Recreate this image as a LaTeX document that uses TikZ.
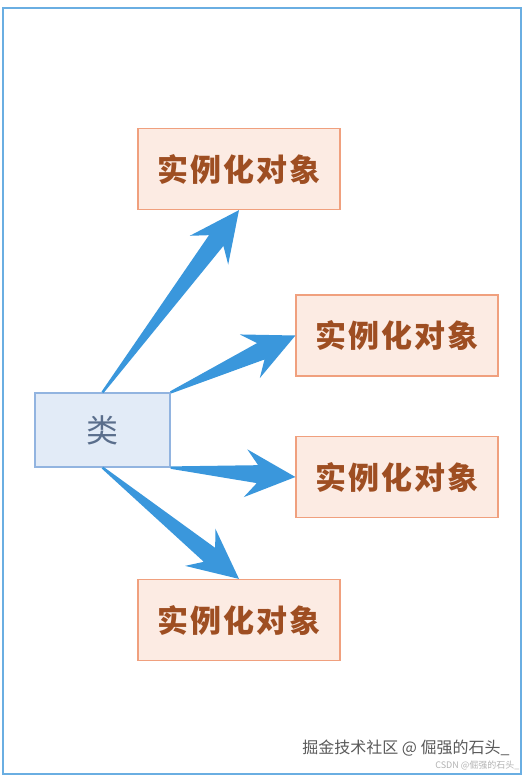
\documentclass[tikz,border=0pt]{standalone}
\usepackage{fontspec}
\usetikzlibrary{calc}
\newfontfamily\cjk{Noto Sans CJK SC}
\newfontfamily\cjkwide[LetterSpace=6]{Noto Sans CJK SC}
\definecolor{objfill}{HTML}{FCEBE3}
\definecolor{objline}{HTML}{F0A07E}
\definecolor{objtext}{HTML}{9E4E22}
\definecolor{clsfill}{HTML}{E2EBF7}
\definecolor{clsline}{HTML}{92B4E0}
\definecolor{clstext}{HTML}{5A6E8C}
\definecolor{framecol}{HTML}{6AAEE2}
\definecolor{arrowblue}{HTML}{3A97DC}
% tapered arrow with a wide, swept-back head
\newcommand{\fatarrow}[2]{%
  \fill[arrowblue] ($(#1)!1.2pt!90:(#2)$) -- ($(#2)!39.1pt!-13.3:(#1)$)
    -- ($(#2)!55.5pt!-25.6:(#1)$) -- (#2) -- ($(#2)!55.5pt!25.6:(#1)$)
    -- ($(#2)!39.1pt!13.3:(#1)$) -- ($(#1)!1.2pt!-90:(#2)$) -- cycle;}
\tikzset{
  objbox/.style={draw=objline,fill=objfill,line width=1.2pt,minimum width=202pt,minimum height=81pt,inner sep=0pt,
    font=\cjkwide\bfseries\fontsize{31}{31}\selectfont,text=objtext},
  clsbox/.style={draw=clsline,fill=clsfill,line width=1.2pt,minimum width=135pt,minimum height=74pt,inner sep=0pt,
    font=\cjk\fontsize{32}{32}\selectfont,text=clstext}
}

\begin{document}
\begin{tikzpicture}[x=1pt,y=-1pt]
  \useasboundingbox (0,0) rectangle (529,777);
  \draw[framecol,line width=2pt] (3,8) rectangle (521,774);
  \node[clsbox] (cls) at (102.5,430) {类};
  \node[objbox] (obj1) at (239,169) {实例化对象};
  \node[objbox] (obj2) at (397,335.5) {实例化对象};
  \node[objbox] (obj3) at (397,477) {实例化对象};
  \node[objbox] (obj4) at (239,620) {实例化对象};
  \fatarrow{cls.north}{obj1.south}
  \fatarrow{cls.north east}{obj2.west}
  \fatarrow{cls.south east}{obj3.west}
  \fatarrow{cls.south}{obj4.north}
  \node[font=\cjk\fontsize{16}{16}\selectfont,text=black!65] (wm) at (406,748) {掘金技术社区 @ 倔强的石头\_};
  \node[font=\cjk\fontsize{9}{9}\selectfont,text=black!30,anchor=east] (csdn) at (523,765) {CSDN @倔强的石头\_};
\end{tikzpicture}
\end{document}
